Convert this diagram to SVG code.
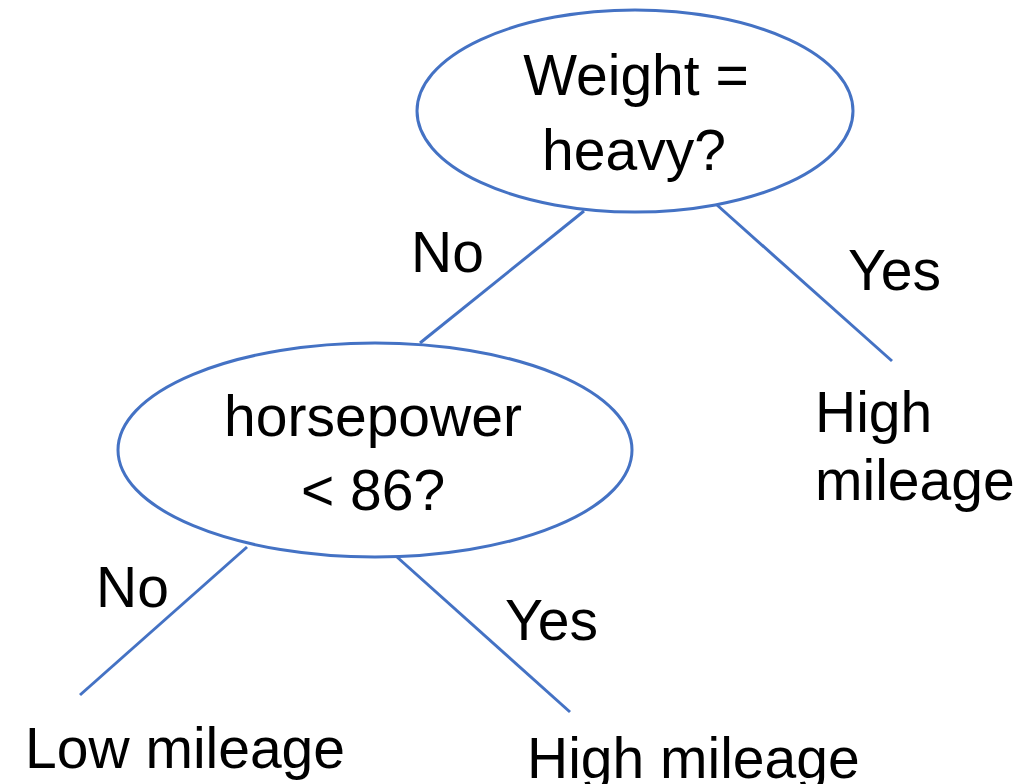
<svg xmlns="http://www.w3.org/2000/svg" width="1024" height="784" viewBox="0 0 1024 784">
  <style>
    .node { fill: #ffffff; stroke: #4472C4; stroke-width: 3; }
    .edge { stroke: #4472C4; stroke-width: 3; fill: none; }
    text { font-family: "Liberation Sans", Arial, sans-serif; font-size: 57px; fill: #000000; }
    .c { text-anchor: middle; }
  </style>
  <rect width="1024" height="784" fill="#ffffff"/>

  <g id="connectors">
    <line class="edge" x1="584" y1="211" x2="420" y2="343"/>
    <line class="edge" x1="717" y1="205" x2="892" y2="361"/>
    <line class="edge" x1="247" y1="547" x2="80" y2="695"/>
    <line class="edge" x1="397" y1="557" x2="570" y2="712"/>
    <text x="411" y="272">No</text>
    <text x="848" y="290">Yes</text>
    <text x="96" y="607">No</text>
    <text x="505" y="640">Yes</text>
  </g>

  <g id="weight-node">
    <ellipse class="node" cx="635" cy="111" rx="218" ry="101"/>
    <text class="c" x="636" y="95">Weight =</text>
    <text class="c" x="634" y="170">heavy?</text>
  </g>

  <g id="horsepower-node">
    <ellipse class="node" cx="375" cy="450" rx="257" ry="107"/>
    <text class="c" x="373" y="436">horsepower</text>
    <text class="c" x="373" y="510">&lt; 86?</text>
  </g>

  <g id="leaf-heavy">
    <text x="815" y="432">High</text>
    <text x="815" y="500">mileage</text>
  </g>

  <g id="leaf-low">
    <text x="25" y="768">Low mileage</text>
  </g>

  <g id="leaf-high">
    <text x="527" y="778">High mileage</text>
  </g>
</svg>
